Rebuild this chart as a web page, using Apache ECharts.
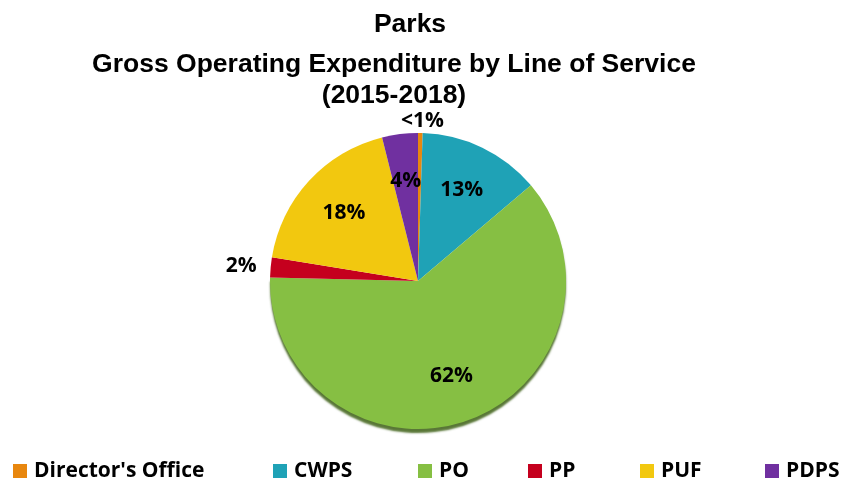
<!DOCTYPE html>
<html>
<head>
<meta charset="utf-8">
<script src="https://cdn.jsdelivr.net/npm/echarts@6/dist/echarts.min.js"></script>
<style>
  html, body { margin: 0; padding: 0; background: #fff; }
  #main { width: 844px; height: 479px; }
</style>
</head>
<body>
<div id="main"></div>
<script>
// slices, clockwise from 12 o'clock
var categories = ["Director's Office", "CWPS", "PO", "PP", "PUF", "PDPS"];
var values = [0.5, 13.3, 61.5, 2.2, 18.5, 3.9];
var pctLabels = ["<1%", "13%", "62%", "2%", "18%", "4%"];
var colors = ["#E8870E", "#1FA2B6", "#86BF43", "#C5001E", "#F2C80F", "#7030A0"];

// legend item left edges (layout, includes the legend's 5px padding)
var legendLeft = [8, 268, 413, 523, 635, 760];

var myChart = echarts.init(document.getElementById("main"));

var center = [418, 281];
var radius = 148;

var mainData = categories.map(function (name, i) {
  var item = {
    name: name,
    value: values[i],
    itemStyle: { color: colors[i] },
    label: { show: values[i] < 3 }
  };
  if (name === "PO") {
    // dark rim under the big slice
    item.itemStyle.shadowColor = "rgba(60,95,20,0.85)";
    item.itemStyle.shadowOffsetY = 4;
    item.itemStyle.shadowBlur = 2;
  }
  return item;
});

// transparent ring used only to place inside labels further out
var labelData = categories.map(function (name, i) {
  return {
    name: name,
    value: values[i],
    label: { show: values[i] >= 3 }
  };
});

var legends = categories.map(function (name, i) {
  return {
    left: legendLeft[i],
    top: 455,
    orient: "horizontal",
    icon: "rect",
    itemWidth: 14,
    itemHeight: 14,
    selectedMode: false,
    textStyle: {
      fontFamily: "Open Sans",
      fontWeight: "bold",
      fontSize: 21,
      lineHeight: 22,
      color: "#000",
      padding: [0, 0, 0, 2]
    },
    data: [{ name: name, itemStyle: { color: colors[i] } }]
  };
});

var labelFont = {
  fontFamily: "Open Sans",
  fontWeight: "bold",
  fontSize: 21,
  color: "#000"
};

var option = {
  backgroundColor: "#fff",
  animation: false,
  title: [
    {
      text: "Parks",
      left: 405,
      top: 6,
      textAlign: "center",
      textStyle: {
        fontFamily: "Liberation Sans",
        fontWeight: "bold",
        fontSize: 26.5,
        color: "#000"
      }
    },
    {
      text: "Gross Operating Expenditure by Line of Service\n(2015-2018)",
      left: 389,
      top: 44,
      textAlign: "center",
      textStyle: {
        fontFamily: "Liberation Sans",
        fontWeight: "bold",
        fontSize: 26.5,
        lineHeight: 31,
        color: "#000"
      }
    }
  ],
  legend: legends,
  series: [
    {
      name: "Expenditure",
      type: "pie",
      center: center,
      radius: radius,
      startAngle: 90,
      clockwise: true,
      avoidLabelOverlap: false,
      emphasis: { disabled: true },
      label: Object.assign({
        position: "outside",
        distanceToLabelLine: 0,
        formatter: function (p) {
          return pctLabels[p.dataIndex];
        }
      }, labelFont),
      labelLine: { show: false, length: 12, length2: 2 },
      labelLayout: function (p) {
        if (p.dataIndex === 0) {
          return { align: "center" };
        }
        return {};
      },
      data: mainData
    },
    {
      name: "labels",
      type: "pie",
      center: center,
      radius: [radius * 0.32, radius],
      startAngle: 90,
      clockwise: true,
      silent: true,
      emphasis: { disabled: true },
      itemStyle: { color: "rgba(0,0,0,0)" },
      label: Object.assign({
        position: "inside",
        formatter: function (p) {
          return pctLabels[p.dataIndex];
        }
      }, labelFont),
      labelLine: { show: false },
      data: labelData
    }
  ]
};

myChart.setOption(option);
</script>
</body>
</html>
